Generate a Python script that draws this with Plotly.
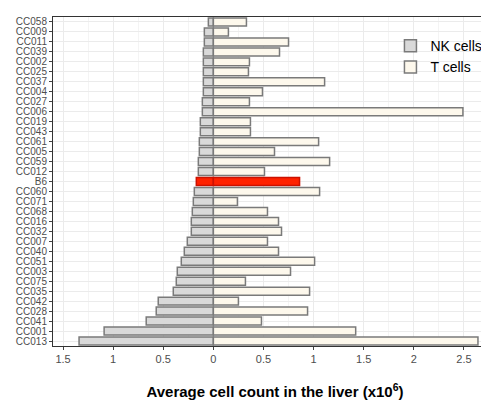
import plotly.graph_objects as go

strains = ["CC058", "CC009", "CC011", "CC039", "CC002", "CC025", "CC037", "CC004", "CC027", "CC006",
           "CC019", "CC043", "CC061", "CC005", "CC059", "CC012", "B6", "CC060", "CC071", "CC068",
           "CC016", "CC032", "CC007", "CC040", "CC051", "CC003", "CC075", "CC035", "CC042", "CC028",
           "CC041", "CC001", "CC013"]
nk_cells = [0.05, 0.09, 0.09, 0.10, 0.10, 0.10, 0.10, 0.10, 0.11, 0.11,
            0.13, 0.13, 0.14, 0.14, 0.15, 0.15, 0.17, 0.19, 0.20, 0.21,
            0.22, 0.22, 0.26, 0.29, 0.32, 0.36, 0.37, 0.40, 0.55, 0.57,
            0.67, 1.09, 1.34]
t_cells = [0.33, 0.15, 0.75, 0.66, 0.36, 0.35, 1.11, 0.49, 0.36, 2.49,
           0.37, 0.37, 1.05, 0.61, 1.16, 0.51, 0.86, 1.06, 0.24, 0.54,
           0.65, 0.68, 0.54, 0.65, 1.01, 0.77, 0.32, 0.96, 0.25, 0.94,
           0.48, 1.42, 2.64]
tick_vals = [-1.5, -1, -0.5, 0, 0.5, 1, 1.5, 2, 2.5]
tick_text = ["1.5", "1", "0.5", "0", "0.5", "1", "1.5", "2", "2.5"]

nk_fill = ["#ff2200" if s == "B6" else "#d9d9d9" for s in strains]
t_fill = ["#ff2200" if s == "B6" else "#fdf8ec" for s in strains]
edge = ["#cc1100" if s == "B6" else "#7a7a7a" for s in strains]

fig = go.Figure()
fig.add_trace(go.Bar(y=strains, x=[-v for v in nk_cells], orientation="h", name="NK cells",
                     marker=dict(color=nk_fill, line=dict(color=edge, width=1.5))))
fig.add_trace(go.Bar(y=strains, x=t_cells, orientation="h", name="T cells",
                     marker=dict(color=t_fill, line=dict(color=edge, width=1.5))))

fig.update_layout(
    width=489, height=403, barmode="overlay", bargap=0.2,
    plot_bgcolor="white", paper_bgcolor="white",
    margin=dict(l=45, r=0, t=9, b=65),
    font=dict(family="Liberation Sans, Arial", size=11, color="#4d4d4d"),
    legend=dict(x=0.76, y=0.96, xanchor="left", yanchor="top", bgcolor="rgba(0,0,0,0)",
                font=dict(size=14, color="black")),
)
fig.update_xaxes(range=[-1.6, 2.83], tickvals=tick_vals, ticktext=tick_text,
                 showgrid=True, gridcolor="#ebebeb", zeroline=False,
                 minor=dict(dtick=0.25, showgrid=True, gridcolor="#f4f4f4"),
                 showline=True, linecolor="#333333", mirror=True, ticks="outside", ticklen=3,
                 title=dict(text="<b>Average cell count in the liver (x10<sup>6</sup>)</b>",
                            font=dict(size=15, color="black"), standoff=22))
fig.update_yaxes(autorange="reversed", categoryorder="array", categoryarray=strains,
                 dtick=1, showgrid=True, gridcolor="#ebebeb", showline=True, linecolor="#333333",
                 mirror=True, ticks="outside", ticklen=3, tickfont=dict(size=10))
fig.write_html("out.html")
